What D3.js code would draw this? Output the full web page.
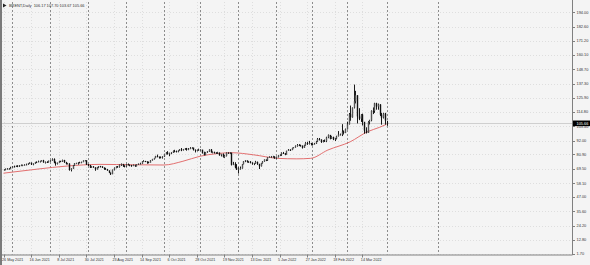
<!DOCTYPE html>
<html>
<head>
<meta charset="utf-8">
<script src="https://cdn.jsdelivr.net/npm/d3@7"></script>
<style>
  html, body { margin: 0; padding: 0; background: #f4f4f4; }
  svg { display: block; font-family: "Liberation Sans", Arial, sans-serif; }
</style>
</head>
<body>
<div id="chart"></div>
<script>
// Brent daily, 26 May 2021 .. 1 Apr 2022 (one value per bar)
const closes = [
  68.87, 69.46, 69.63, 69.32,
  70.25, 71.35, 71.31, 71.89, 71.49, 72.22, 72.22, 72.52, 72.69, 72.86, 73.99, 74.39, 73.08, 73.51, 74.90, 74.81, 75.19, 75.56, 76.18, 74.68, 74.76, 74.62,
  75.84, 76.17, 77.16, 74.53, 73.43, 74.12, 75.55, 75.16, 76.49, 74.76, 73.47, 73.59, 68.62, 69.35, 72.23, 73.79, 74.10, 74.50, 74.48, 74.74, 76.05, 76.33,
  72.89, 72.41, 70.38, 71.29, 70.70, 69.04, 70.63, 71.44, 71.31, 70.59, 69.51, 69.03, 68.23, 66.45, 65.18, 68.75, 70.05, 71.25, 71.07, 72.70, 73.41, 71.63,
  71.59, 73.03, 72.61, 72.22, 71.69, 72.60, 71.45, 72.92, 73.51, 73.60, 75.46, 75.67, 75.34, 74.92, 74.36, 76.19, 77.25, 78.09, 79.53, 79.09, 78.64, 78.52,
  79.28, 81.26, 82.56, 81.08, 81.95, 82.39, 83.65, 83.42, 83.18, 84.00, 84.86, 84.33, 85.08, 85.82, 84.61, 85.53, 85.99, 86.40, 84.58, 84.32, 84.38,
  84.71, 84.72, 81.99, 80.54, 82.74, 83.43, 84.78, 82.64, 82.87, 82.17, 82.05, 82.43, 80.28, 81.24, 78.89, 79.70, 82.31, 82.25, 82.22, 72.72, 73.44, 70.57,
  68.87, 69.67, 69.88, 73.08, 75.44, 76.17, 75.15, 75.15, 74.39, 73.70, 73.88, 75.02, 73.52, 71.52, 73.98, 75.29, 76.85, 76.14, 78.60, 78.94, 79.23, 79.32, 77.78,
  78.98, 80.00, 80.80, 81.99, 81.75, 80.87, 83.72, 84.67, 84.47, 86.06, 86.48, 87.51, 88.44, 88.38, 87.89, 86.27, 88.20, 89.96, 89.34, 90.03, 89.26,
  89.16, 89.47, 91.11, 93.27, 92.69, 90.78, 91.55, 91.41, 94.44, 96.48, 93.28, 94.81, 92.97, 93.54, 95.39, 96.84, 96.84, 99.08, 97.93, 100.99,
  104.97, 112.93, 110.46, 118.11, 123.21, 127.98, 111.14, 109.33, 112.67, 106.90, 99.91, 98.02, 106.64, 107.93, 115.62, 115.48, 121.60, 119.03, 120.65, 112.48, 110.23, 113.45, 107.91,
  105.66
];
const highs = [
  69.2, 69.7, 70.0, 69.9,
  71.1, 71.6, 72.0, 72.0, 72.3, 72.5, 72.9, 72.8, 73.1, 73.6, 74.1, 74.6, 74.5, 73.8, 75.0, 75.4, 76.0, 75.9, 76.3, 76.6, 75.3, 75.5,
  76.0, 76.4, 77.8, 77.8, 75.3, 74.5, 75.9, 75.9, 76.8, 76.6, 75.0, 74.0, 73.9, 69.9, 72.5, 74.0, 74.3, 74.7, 75.1, 75.2, 76.2, 76.5,
  75.8, 73.3, 72.6, 71.5, 71.6, 70.5, 70.8, 71.7, 71.8, 71.5, 70.4, 70.2, 69.4, 68.0, 66.5, 68.9, 70.6, 71.4, 71.7, 72.9, 73.7, 73.2,
  72.3, 73.3, 73.7, 72.9, 72.6, 72.9, 72.7, 73.0, 73.7, 74.3, 75.6, 76.3, 75.8, 75.3, 75.2, 76.4, 77.4, 78.2, 79.8, 80.8, 79.2, 79.3,
  79.5, 81.5, 82.8, 83.5, 82.3, 82.7, 84.1, 84.6, 84.0, 84.2, 85.1, 86.0, 85.3, 86.0, 86.1, 86.0, 86.7, 86.6, 86.1, 84.9, 84.8,
  85.5, 85.0, 84.6, 83.1, 82.9, 83.6, 85.0, 85.2, 83.3, 83.1, 82.7, 83.0, 82.4, 81.4, 81.7, 80.3, 82.5, 82.6, 82.5, 82.3, 75.0, 74.7,
  73.2, 70.7, 71.3, 73.3, 75.6, 76.4, 76.0, 75.6, 75.6, 74.6, 74.1, 75.8, 75.2, 73.0, 74.2, 75.6, 76.9, 76.8, 78.7, 79.4, 79.7, 79.8, 79.3,
  79.2, 80.3, 81.0, 82.6, 82.9, 82.0, 83.9, 85.2, 85.0, 86.3, 86.7, 88.1, 89.2, 89.1, 88.7, 88.0, 88.6, 90.7, 91.0, 91.7, 90.1,
  89.7, 90.1, 91.7, 94.0, 94.0, 92.9, 92.3, 92.8, 95.0, 96.8, 96.1, 95.4, 95.0, 94.0, 95.8, 99.5, 97.5, 105.0, 100.0, 101.5,
  107.0, 113.9, 119.8, 118.3, 136.5, 131.5, 128.0, 117.7, 113.0, 113.3, 106.0, 102.5, 107.4, 108.5, 116.0, 118.3, 122.0, 122.0, 121.4, 120.9, 114.0, 114.0, 114.0,
  107.7
];
const lows = [
  68.1, 68.3, 68.9, 69.0,
  69.2, 69.9, 70.6, 70.9, 70.8, 71.0, 71.7, 71.6, 72.0, 72.3, 72.6, 73.4, 72.5, 72.3, 73.4, 74.2, 74.8, 74.5, 75.3, 74.3, 73.7, 74.2,
  74.5, 75.1, 75.9, 74.0, 72.0, 72.9, 74.0, 74.8, 74.9, 74.2, 72.9, 73.1, 68.0, 67.4, 69.3, 71.8, 73.2, 72.8, 74.0, 73.9, 74.8, 75.4,
  72.6, 71.7, 70.1, 70.3, 70.3, 67.9, 68.9, 70.0, 70.6, 70.1, 68.7, 68.8, 67.9, 66.2, 64.6, 65.2, 68.2, 69.9, 70.4, 70.4, 71.8, 71.0,
  70.6, 71.1, 72.2, 71.5, 71.1, 71.6, 71.1, 71.4, 72.5, 73.0, 73.5, 75.0, 74.8, 73.5, 73.8, 74.6, 76.0, 76.8, 77.9, 78.6, 77.6, 77.8,
  77.6, 79.0, 80.9, 80.9, 79.5, 81.1, 82.1, 82.6, 82.5, 82.6, 83.8, 83.5, 84.0, 84.6, 83.9, 84.3, 85.1, 85.5, 84.0, 82.5, 83.3,
  83.7, 84.0, 81.6, 80.1, 80.3, 82.2, 83.0, 82.3, 81.8, 81.6, 81.5, 81.2, 79.9, 79.3, 78.4, 78.2, 79.3, 81.4, 81.6, 72.1, 72.4, 69.9,
  68.6, 65.7, 68.8, 69.6, 73.0, 74.8, 74.4, 74.1, 73.8, 72.7, 72.4, 73.5, 72.6, 69.3, 71.3, 73.6, 75.1, 75.6, 75.7, 78.3, 78.2, 78.4, 77.5,
  77.3, 78.5, 79.6, 79.8, 81.3, 80.3, 80.9, 83.7, 83.7, 84.3, 85.8, 86.3, 87.1, 87.5, 87.1, 85.6, 86.2, 87.9, 88.5, 88.8, 88.1,
  88.0, 88.8, 89.2, 90.8, 92.0, 90.1, 90.5, 91.0, 90.7, 93.8, 92.9, 93.2, 92.3, 91.6, 92.9, 95.2, 96.0, 95.5, 96.8, 97.9,
  100.8, 104.7, 107.7, 110.2, 117.5, 121.5, 105.6, 108.2, 106.8, 104.0, 97.4, 97.6, 98.0, 104.8, 107.3, 113.0, 114.0, 116.5, 116.5, 111.5, 104.6, 109.5, 104.6,
  103.67
];
const firstOpen = 68.6;
const lastOpen = 106.17;

// moving average (red), read at a few bars
const maBars = [0, 20, 37, 56, 75, 93, 104, 114, 124, 132, 145, 159, 170, 178, 188, 201, 211, 218, 222];
const maValues = [66.0, 69.3, 71.7, 73.0, 72.7, 72.5, 75.5, 79.5, 81.6, 82.3, 80.6, 77.8, 77.4, 77.8, 84.4, 91.0, 99.0, 102.5, 104.9];

// axis labels
const priceTicks = [194.00, 182.60, 171.20, 160.10, 148.70, 137.30, 125.90, 114.80, 103.40, 92.00, 80.90, 69.50, 58.10, 47.00, 35.60, 24.20, 12.80, 1.70];
const dateBars = [0, 16, 32, 48, 64, 80, 96, 112, 128, 144, 160, 176, 192, 208];
const dateLabels = ["26 May 2021", "16 Jun 2021", "8 Jul 2021", "30 Jul 2021", "23 Aug 2021", "14 Sep 2021", "6 Oct 2021",
  "28 Oct 2021", "19 Nov 2021", "13 Dec 2021", "5 Jan 2022", "27 Jan 2022", "18 Feb 2022", "14 Mar 2022"];
// first bar of each month (period separators)
const monthBars = [5, 27, 49, 71, 93, 114, 136, 158, 179, 199, 222, 252];

const titleText = "BRENT,Daily  106.17 107.70 103.67 105.66";
const lastPrice = 105.66;

const W = 590, H = 265;
const plot = { left: 2, right: 572, top: 2, bottom: 254.5 };

const svg = d3.select("#chart").append("svg")
  .attr("width", W).attr("height", H);

svg.append("rect").attr("width", W).attr("height", H).attr("fill", "#f4f4f4");

const x = d3.scaleLinear().domain([0, 222]).range([3.5, 386.5]);
const y = d3.scaleLinear().domain([1.7, 194]).range([254, 12.3]);

// grid
const grid = svg.append("g");
grid.selectAll("line.h").data(priceTicks).join("line")
  .attr("x1", plot.left).attr("x2", plot.right)
  .attr("y1", d => Math.round(y(d)) + 0.5).attr("y2", d => Math.round(y(d)) + 0.5)
  .attr("stroke", "#dedede").attr("stroke-width", 1).attr("stroke-dasharray", "1,2");
grid.selectAll("line.v").data(dateBars).join("line")
  .attr("x1", d => Math.round(x(d)) + 0.5).attr("x2", d => Math.round(x(d)) + 0.5)
  .attr("y1", plot.top).attr("y2", plot.bottom)
  .attr("stroke", "#dedede").attr("stroke-width", 1).attr("stroke-dasharray", "1,2");

// period separators
svg.append("g").selectAll("line").data(monthBars).join("line")
  .attr("x1", d => Math.round(x(d)) + 0.5).attr("x2", d => Math.round(x(d)) + 0.5)
  .attr("y1", plot.top).attr("y2", plot.bottom)
  .attr("stroke", "#8c8c8c").attr("stroke-width", 1).attr("stroke-dasharray", "2,2");

// last price line
svg.append("line")
  .attr("x1", plot.left).attr("x2", plot.right)
  .attr("y1", Math.round(y(lastPrice)) + 0.5).attr("y2", Math.round(y(lastPrice)) + 0.5)
  .attr("stroke", "#cfcfcf").attr("stroke-width", 1);

// moving average
const maLine = d3.line()
  .x((d, i) => x(maBars[i]))
  .y(d => y(d))
  .curve(d3.curveMonotoneX);
svg.append("path").datum(maValues)
  .attr("d", maLine)
  .attr("fill", "none").attr("stroke", "#e06060").attr("stroke-width", 0.9);

// candles
const bars = closes.map((c, i) => ({
  i: i,
  o: i === 0 ? firstOpen : (i === closes.length - 1 ? lastOpen : closes[i - 1]),
  h: highs[i], l: lows[i], c: c
}));
const candles = svg.append("g");
candles.selectAll("line").data(bars).join("line")
  .attr("x1", d => Math.round(x(d.i)) + 0.5).attr("x2", d => Math.round(x(d.i)) + 0.5)
  .attr("y1", d => y(d.h)).attr("y2", d => y(d.l))
  .attr("stroke", "#1a1a1a").attr("stroke-width", 1);
candles.selectAll("rect").data(bars).join("rect")
  .attr("x", d => Math.round(x(d.i)) - 0.2)
  .attr("width", 1.4)
  .attr("y", d => y(Math.max(d.o, d.c)))
  .attr("height", d => Math.max(0.8, Math.abs(y(d.o) - y(d.c))))
  .attr("fill", d => d.c >= d.o ? "#555" : "#111");

// frame
svg.append("line").attr("x1", 1).attr("x2", 1).attr("y1", 0).attr("y2", H)
  .attr("stroke", "#7a7a7a").attr("stroke-width", 2);
svg.append("line").attr("x1", plot.left).attr("x2", plot.right + 0.5)
  .attr("y1", plot.bottom + 0.5).attr("y2", plot.bottom + 0.5)
  .attr("stroke", "#808080").attr("stroke-width", 1);
svg.append("line").attr("x1", plot.right + 0.5).attr("x2", plot.right + 0.5)
  .attr("y1", 0).attr("y2", plot.bottom + 0.5)
  .attr("stroke", "#808080").attr("stroke-width", 1);

// price axis (the last-price tag covers the label under it, as in the terminal)
const yAxis = svg.append("g");
yAxis.selectAll("line").data(priceTicks).join("line")
  .attr("x1", plot.right).attr("x2", plot.right + 3)
  .attr("y1", d => Math.round(y(d)) + 0.5).attr("y2", d => Math.round(y(d)) + 0.5)
  .attr("stroke", "#808080");
yAxis.selectAll("text").data(priceTicks).join("text")
  .attr("x", plot.right + 4.5)
  .attr("y", d => y(d) + 1.4)
  .attr("font-size", 3.9).attr("fill", "#333")
  .text(d => d.toFixed(2));

// last price tag
svg.append("rect")
  .attr("x", plot.right + 1).attr("y", y(lastPrice) - 2.8)
  .attr("width", 17).attr("height", 5.6).attr("fill", "#000");
svg.append("text")
  .attr("x", plot.right + 4.5).attr("y", y(lastPrice) + 1.4)
  .attr("font-size", 3.9).attr("fill", "#fff")
  .text(lastPrice.toFixed(2));

// date axis
const xAxis = svg.append("g");
xAxis.selectAll("line").data(dateBars).join("line")
  .attr("x1", d => Math.round(x(d)) + 0.5).attr("x2", d => Math.round(x(d)) + 0.5)
  .attr("y1", plot.bottom).attr("y2", plot.bottom + 3)
  .attr("stroke", "#808080");
xAxis.selectAll("text").data(dateBars).join("text")
  .attr("x", (d, i) => x(d) - 1.5)
  .attr("y", plot.bottom + 6)
  .attr("font-size", 3.7).attr("fill", "#333")
  .text((d, i) => dateLabels[i]);

// title
svg.append("path").attr("d", "M3,3.5 L6.5,5.5 L3,7.5 Z").attr("fill", "#222");
svg.append("text").attr("x", 9).attr("y", 7)
  .attr("font-size", 3.9).attr("fill", "#333")
  .attr("xml:space", "preserve")
  .style("white-space", "pre")
  .text(titleText);
</script>
</body>
</html>
